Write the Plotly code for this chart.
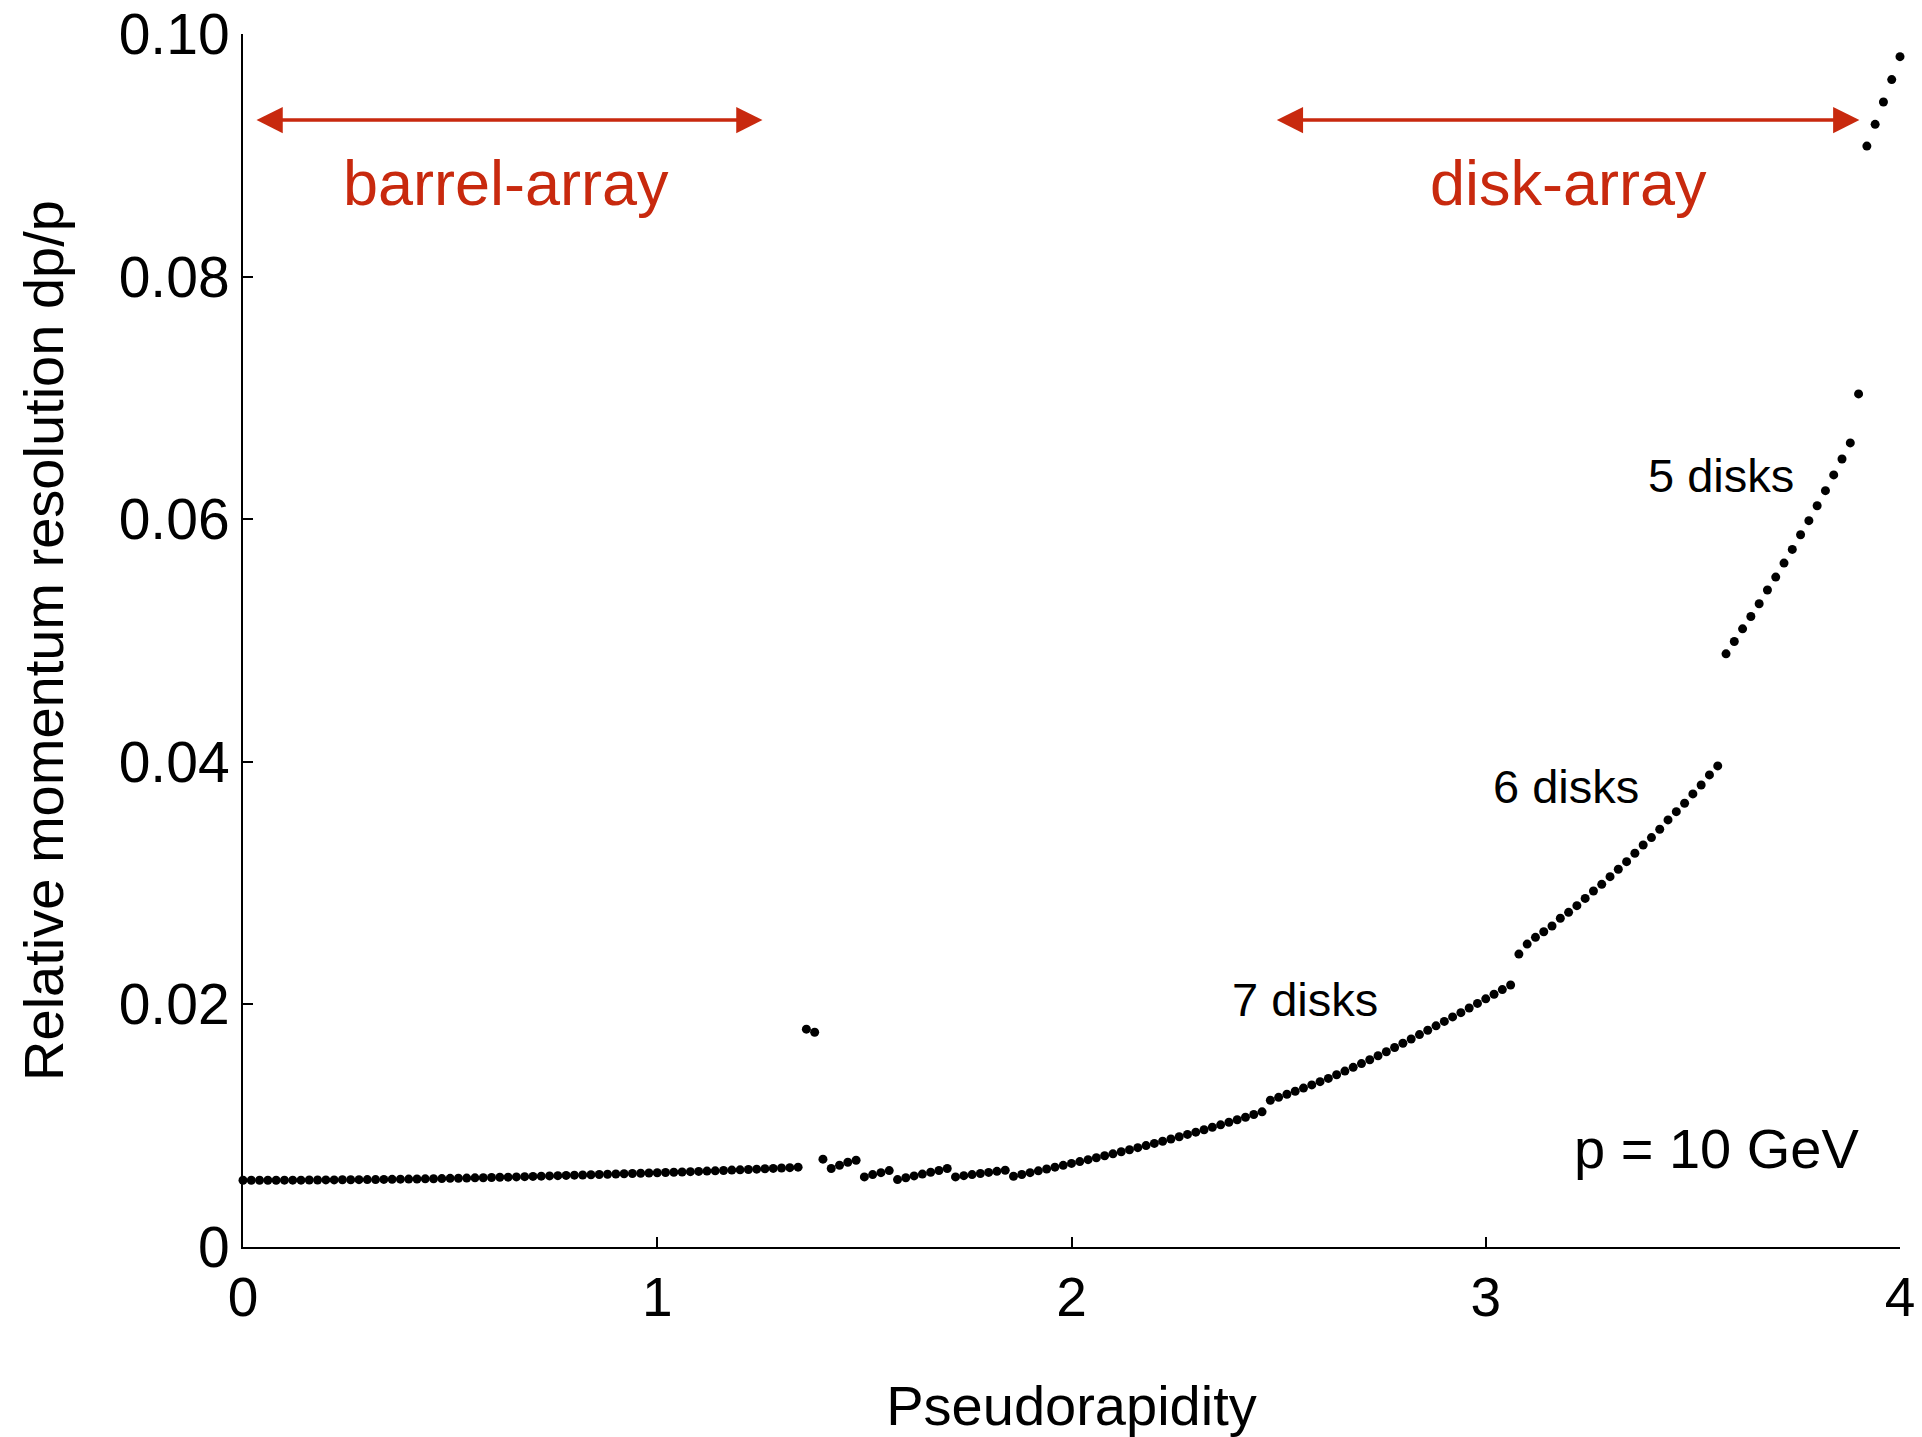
import plotly.graph_objects as go

# ---------------- data ----------------
# barrel region, eta 0.00 .. 1.34 (step 0.02)
barrel_eta = [round(0.02 * i, 2) for i in range(68)]
barrel_res = [
    0.00550, 0.00550, 0.00550, 0.00550, 0.00550, 0.00551, 0.00551, 0.00551, 0.00552, 0.00552,
    0.00553, 0.00553, 0.00554, 0.00554, 0.00555, 0.00556, 0.00556, 0.00557, 0.00558, 0.00559,
    0.00560, 0.00561, 0.00562, 0.00563, 0.00564, 0.00566, 0.00567, 0.00568, 0.00570, 0.00571,
    0.00573, 0.00575, 0.00576, 0.00578, 0.00580, 0.00582, 0.00584, 0.00586, 0.00588, 0.00590,
    0.00592, 0.00594, 0.00596, 0.00598, 0.00600, 0.00602, 0.00604, 0.00606, 0.00608, 0.00610,
    0.00612, 0.00614, 0.00616, 0.00618, 0.00621, 0.00623, 0.00626, 0.00628, 0.00631, 0.00634,
    0.00636, 0.00639, 0.00642, 0.00645, 0.00648, 0.00651, 0.00654, 0.00658,
]

# transition region eta 1.36 .. 1.84
trans_eta = [1.36, 1.38, 1.40, 1.42, 1.44, 1.46, 1.48, 1.50, 1.52, 1.54, 1.56,
             1.58, 1.60, 1.62, 1.64, 1.66, 1.68, 1.70,
             1.72, 1.74, 1.76, 1.78, 1.80, 1.82, 1.84]
trans_res = [0.01796, 0.01770, 0.00724, 0.00647, 0.00674, 0.00699, 0.00715,
             0.00578, 0.00597, 0.00613, 0.00630,
             0.00556, 0.00571, 0.00586, 0.00601, 0.00616, 0.00631, 0.00647,
             0.00578, 0.00588, 0.00597, 0.00606, 0.00615, 0.00624, 0.00633]

# 7 disks, eta 1.86 .. 3.06
disk7_eta = [round(1.86 + 0.02 * i, 2) for i in range(61)]
disk7_res = [
    0.00583, 0.00598, 0.00613, 0.00628, 0.00643, 0.00658, 0.00673, 0.00689, 0.00704, 0.00720,
    0.00736, 0.00752, 0.00768, 0.00785, 0.00802, 0.00819, 0.00836, 0.00854, 0.00872, 0.00890,
    0.00909, 0.00928, 0.00947, 0.00967, 0.00987, 0.01007, 0.01028, 0.01049, 0.01070, 0.01092,
    0.01114,
    0.01210, 0.01234, 0.01259, 0.01284, 0.01310, 0.01336, 0.01363, 0.01390, 0.01420, 0.01450,
    0.01481, 0.01512, 0.01544, 0.01577, 0.01610, 0.01645, 0.01680, 0.01715, 0.01751, 0.01787,
    0.01823, 0.01860, 0.01897, 0.01932, 0.01970, 0.02008, 0.02046, 0.02084, 0.02122, 0.02160,
]

# 6 disks, eta 3.08 .. 3.56
disk6_eta = [round(3.08 + 0.02 * i, 2) for i in range(25)]
disk6_res = [
    0.02415, 0.02497, 0.02553, 0.02599, 0.02646, 0.02710, 0.02759, 0.02814, 0.02874, 0.02935,
    0.02990, 0.03053, 0.03114, 0.03177, 0.03246, 0.03314, 0.03375, 0.03444, 0.03521, 0.03589,
    0.03658, 0.03735, 0.03809, 0.03892, 0.03966,
]

# 5 disks, eta 3.58 .. 3.90
disk5_eta = [round(3.58 + 0.02 * i, 2) for i in range(17)]
disk5_res = [
    0.04890, 0.04992, 0.05096, 0.05198, 0.05303, 0.05416, 0.05523, 0.05638, 0.05751, 0.05872,
    0.05988, 0.06111, 0.06235, 0.06365, 0.06496, 0.06629, 0.07033,
]

# last disks, eta 3.92 .. 4.00
disk4_eta = [3.92, 3.94, 3.96, 3.98, 4.00]
disk4_res = [0.09076, 0.09255, 0.09439, 0.09624, 0.09813]

x_ticks = [0, 1, 2, 3, 4]
x_ticktext = ["0", "1", "2", "3", "4"]
y_ticks = [0, 0.02, 0.04, 0.06, 0.08, 0.10]
y_ticktext = ["0", "0.02", "0.04", "0.06", "0.08", "0.10"]

eta = barrel_eta + trans_eta + disk7_eta + disk6_eta + disk5_eta + disk4_eta
res = barrel_res + trans_res + disk7_res + disk6_res + disk5_res + disk4_res

FONT = "Liberation Sans, Arial, Helvetica, sans-serif"
RED = "#c8290e"

fig = go.Figure()
fig.add_trace(go.Scatter(
    x=eta, y=res, mode="markers",
    marker=dict(color="black", size=9, line=dict(width=0)),
    cliponaxis=False, showlegend=False,
))

# region arrows
for x0, x1 in [(0.029, 1.254), (2.492, 3.902)]:
    fig.add_annotation(x=x1, y=0.0929, ax=x0, ay=0.0929, xref="x", yref="y",
                       axref="x", ayref="y", text="", showarrow=True,
                       arrowhead=2, arrowside="end+start", arrowsize=1.5,
                       arrowwidth=3.5, arrowcolor=RED, standoff=0, startstandoff=0)

labels = [
    ("barrel-array", 0.636, 0.0877, 63, RED),
    ("disk-array", 3.20, 0.0877, 63, RED),
    ("7 disks", 2.563, 0.0204, 47, "black"),
    ("6 disks", 3.194, 0.0380, 47, "black"),
    ("5 disks", 3.567, 0.0636, 47, "black"),
    ("p = 10 GeV", 3.558, 0.0081, 56, "black"),
]
for txt, x, y, sz, col in labels:
    fig.add_annotation(x=x, y=y, xref="x", yref="y", text=txt, showarrow=False,
                       font=dict(family=FONT, size=sz, color=col),
                       xanchor="center", yanchor="middle")

fig.update_layout(
    width=1922, height=1437,
    margin=dict(l=243, r=22, t=34, b=190, autoexpand=False),
    paper_bgcolor="white", plot_bgcolor="white",
    font=dict(family=FONT, color="black"),
    xaxis=dict(
        range=[0, 4], tickvals=x_ticks, ticktext=x_ticktext, automargin=False,
        showgrid=False, zeroline=False, showline=True, linecolor="black", linewidth=2,
        ticks="inside", ticklen=10, tickwidth=1.5, tickcolor="black",
        tickfont=dict(size=55, family=FONT), ticklabelstandoff=1,
        title=dict(text="Pseudorapidity", font=dict(size=56, family=FONT), standoff=63),
    ),
    yaxis=dict(
        range=[0, 0.1], tickvals=y_ticks, ticktext=y_ticktext, automargin=False,
        showgrid=False, zeroline=False, showline=True, linecolor="black", linewidth=2,
        ticks="inside", ticklen=10, tickwidth=1.5, tickcolor="black",
        tickfont=dict(size=57, family=FONT), ticklabelstandoff=0,
        title=dict(text="Relative momentum resolution dp/p", font=dict(size=56, family=FONT), standoff=37),
    ),
)

fig.write_html("out.html")
